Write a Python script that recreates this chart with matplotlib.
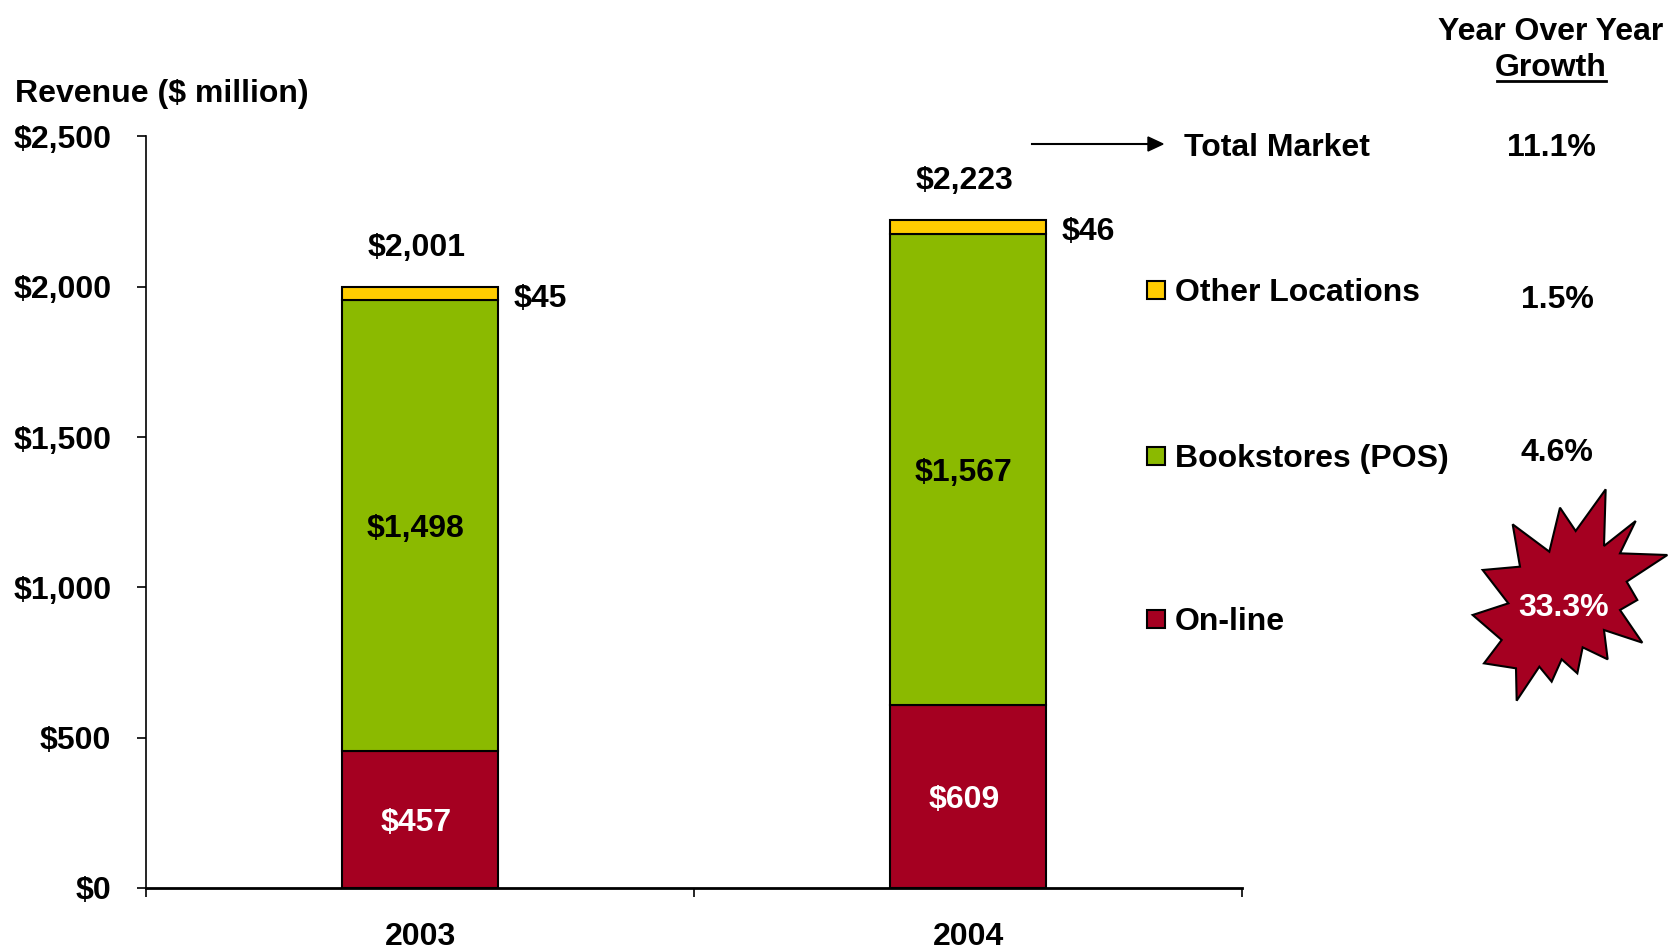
import numpy as np
import matplotlib.pyplot as plt
from matplotlib.patches import Polygon, Rectangle

plt.rcParams['font.family'] = ['Liberation Sans', 'DejaVu Sans']
plt.rcParams['font.weight'] = 'bold'

W, H = 1672, 951

years = ['2003', '2004']
online = [457, 609]
bookstores = [1498, 1567]
other = [45, 46]
totals = ['$2,001', '$2,223']

legend_names = ['Other Locations', 'Bookstores (POS)', 'On-line']
growth = ['1.5%', '4.6%', '33.3%']
total_growth = '11.1%'

col_online = '#A50021'
col_book = '#8BBA00'
col_other = '#FFCC00'
cols = [col_other, col_book, col_online]

FS = 23
DY = 3  # text sits a touch lower than matplotlib's centre

def fp(x, y):
    # pixel position -> figure fraction
    return x / W, 1 - y / H

def ftext(x, y, s, **kw):
    fig.text(*fp(x, y + DY), s, va='center', fontsize=FS, fontweight='bold', **kw)

fig = plt.figure(figsize=(W / 100, H / 100), dpi=100)
ax = fig.add_axes([146 / W, 1 - 888 / H, (1242 - 146) / W, (888 - 136.5) / H])

x = np.array([0.5, 1.5])
bw = 0.284
online = np.array(online)
bookstores = np.array(bookstores)
other = np.array(other)

ax.bar(x, online, bw, color=col_online, edgecolor='black', linewidth=1.5)
ax.bar(x, bookstores, bw, bottom=online, color=col_book, edgecolor='black', linewidth=1.5)
ax.bar(x, other, bw, bottom=online + bookstores, color=col_other, edgecolor='black', linewidth=1.5)

for i in range(2):
    ax.annotate('$%d' % online[i], (x[i], online[i] / 2), xytext=(-3, -2.5),
                textcoords='offset points', ha='center', va='center',
                color='white', fontsize=FS, fontweight='bold')
    ax.annotate('${:,}'.format(bookstores[i]), (x[i], online[i] + bookstores[i] / 2),
                xytext=(-3, -2.5), textcoords='offset points',
                ha='center', va='center', color='black', fontsize=FS, fontweight='bold')
    top = online[i] + bookstores[i] + other[i]
    ax.annotate(totals[i], (x[i], top), xytext=(-2.5, 28), textcoords='offset points',
                ha='center', va='center', fontsize=FS, fontweight='bold')
    ax.annotate('$%d' % other[i], (x[i] + bw / 2, top - other[i] / 2 - 8),
                xytext=(11.5, -2), textcoords='offset points',
                ha='left', va='center', fontsize=FS, fontweight='bold')

ax.set_xlim(0, 2)
ax.set_ylim(0, 2500)
ax.set_yticks(np.arange(0, 2501, 500))
ax.set_yticklabels(['${:,}'.format(v) for v in range(0, 2501, 500)], fontsize=FS, fontweight='bold')
ax.tick_params(axis='y', direction='out', length=6.5, width=1.2, pad=18.5)
ax.set_xticks(x)
ax.set_xticklabels(years, fontsize=FS, fontweight='bold')
ax.set_xticks([0, 1, 2], minor=True)
ax.tick_params(axis='x', which='major', length=0, pad=24.5)
ax.tick_params(axis='x', which='minor', direction='out', length=6.5, width=1.2)

for s in ['top', 'right']:
    ax.spines[s].set_visible(False)
ax.spines['left'].set_linewidth(1.2)
ax.spines['bottom'].set_linewidth(2)

ftext(15, 91, 'Revenue ($ million)', ha='left')

# right-hand growth panel
ftext(1551, 29, 'Year Over Year', ha='center')
ftext(1551, 65, 'Growth', ha='center')
fig.add_artist(plt.Line2D([1497 / W, 1606 / W], [1 - 81 / H, 1 - 81 / H], color='black',
                          linewidth=2, transform=fig.transFigure))

fig.add_artist(plt.Line2D([1032 / W, 1150 / W], [1 - 144 / H, 1 - 144 / H], color='black',
                          linewidth=1.5, transform=fig.transFigure))
fig.add_artist(Polygon([fp(1148, 137), fp(1163, 144), fp(1148, 151)], closed=True,
                       facecolor='black', edgecolor='black', transform=fig.transFigure))
ftext(1184, 145, 'Total Market', ha='left')
ftext(1551, 145, total_growth, ha='center')

leg_y = [290, 456, 619]
for i in range(3):
    sx, sy = fp(1147, leg_y[i] + 9)
    fig.add_artist(Rectangle((sx, sy), 18 / W, 18 / H, facecolor=cols[i], edgecolor='black',
                             linewidth=1.5, transform=fig.transFigure))
    ftext(1175, leg_y[i], legend_names[i], ha='left')

# starburst behind the on-line growth figure
burst = [(617, 88), (612, 258), (707, 183), (660, 280), (802, 285), (680, 365),
         (712, 420), (660, 450), (727, 548), (612, 510), (623, 598), (548, 562),
         (532, 640), (485, 598), (455, 665), (418, 620), (350, 722), (348, 625),
         (252, 610), (305, 540), (218, 465), (325, 430), (248, 330), (360, 320),
         (338, 193), (448, 275), (480, 143), (527, 213)]
burst = [fp(1400 + bx / 3, 460 + by / 3) for bx, by in burst]
fig.add_artist(Polygon(burst, closed=True, facecolor=col_online, edgecolor='black',
                       linewidth=1.5, transform=fig.transFigure))

ftext(1557, 297, growth[0], ha='center')
ftext(1557, 450, growth[1], ha='center')
ftext(1564, 605, growth[2], ha='center', color='white')

fig.savefig('out.png', dpi=100)
